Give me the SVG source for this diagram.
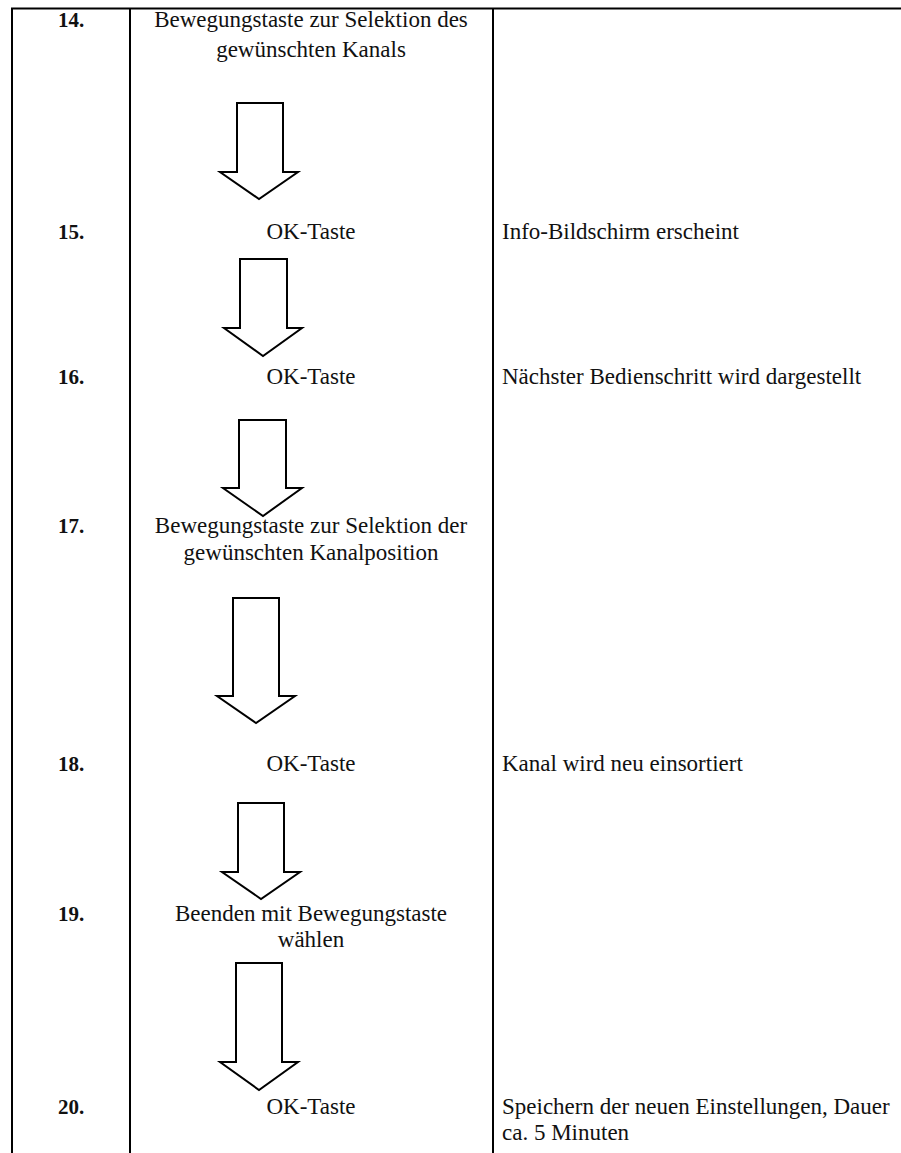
<svg xmlns="http://www.w3.org/2000/svg" width="901" height="1153" viewBox="0 0 901 1153">
<style>
.t{font-family:"Liberation Serif","Times New Roman",serif;font-size:23px;fill:#111}
.n{font-family:"Liberation Serif","Times New Roman",serif;font-size:21px;font-weight:bold;fill:#111;text-anchor:middle}
.c{text-anchor:middle}
.grid{stroke:#000;stroke-width:2;fill:none}
.arr{fill:#fff;stroke:#000;stroke-width:2;stroke-linejoin:miter}
</style>
<rect width="901" height="1153" fill="#fff"/>
<g id="table" class="grid">
<line x1="11" y1="8.5" x2="901" y2="8.5"/>
<line x1="12" y1="8" x2="12" y2="1153"/>
<line x1="130" y1="8" x2="130" y2="1153"/>
<line x1="493" y1="8" x2="493" y2="1153"/>
</g>
<g id="connectors">
<polygon class="arr" points="237,103 283,103 283,172 298,172 259,199 220,172 237,172"/>
<polygon class="arr" points="240,259 287,259 287,328 302,328 263,356 224,328 240,328"/>
<polygon class="arr" points="239,420 286,420 286,488 302,488 263,516 223,488 239,488"/>
<polygon class="arr" points="233,598 279,598 279,696 295,696 256,723 217,696 233,696"/>
<polygon class="arr" points="238,803 284,803 284,872 300,872 261,899 222,872 238,872"/>
<polygon class="arr" points="236,963 282,963 282,1062 298,1062 259,1090 220,1062 236,1062"/>
</g>
<g id="step14">
<text class="n" x="71" y="27">14.</text>
<text class="t c" x="311" y="27">Bewegungstaste zur Selektion des</text>
<text class="t c" x="311" y="57">gewünschten Kanals</text>
</g>
<g id="step15">
<text class="n" x="71" y="239">15.</text>
<text class="t c" x="311" y="239">OK-Taste</text>
<text class="t" x="502" y="239">Info-Bildschirm erscheint</text>
</g>
<g id="step16">
<text class="n" x="71" y="384">16.</text>
<text class="t c" x="311" y="384">OK-Taste</text>
<text class="t" x="502" y="384">Nächster Bedienschritt wird dargestellt</text>
</g>
<g id="step17">
<text class="n" x="71" y="533">17.</text>
<text class="t c" x="311" y="533">Bewegungstaste zur Selektion der</text>
<text class="t c" x="311" y="560">gewünschten Kanalposition</text>
</g>
<g id="step18">
<text class="n" x="71" y="771">18.</text>
<text class="t c" x="311" y="771">OK-Taste</text>
<text class="t" x="502" y="771">Kanal wird neu einsortiert</text>
</g>
<g id="step19">
<text class="n" x="71" y="921">19.</text>
<text class="t c" x="311" y="921">Beenden mit Bewegungstaste</text>
<text class="t c" x="311" y="947">wählen</text>
</g>
<g id="step20">
<text class="n" x="71" y="1114">20.</text>
<text class="t c" x="311" y="1114">OK-Taste</text>
<text class="t" x="502" y="1114">Speichern der neuen Einstellungen, Dauer</text>
<text class="t" x="502" y="1140">ca. 5 Minuten</text>
</g>
</svg>
